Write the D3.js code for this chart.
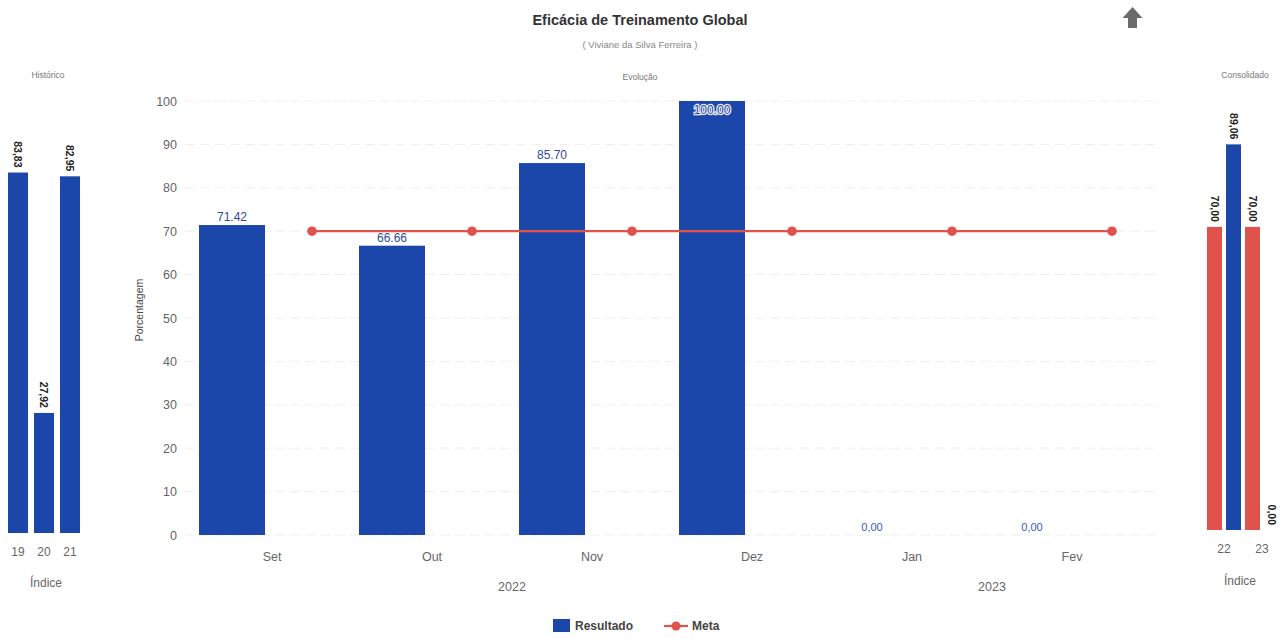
<!DOCTYPE html>
<html><head><meta charset="utf-8">
<script src="https://cdn.jsdelivr.net/npm/d3@7"></script>
<style>body{margin:0;background:#fff;} svg{font-family:"Liberation Sans",Arial,sans-serif;display:block;}</style>
</head><body><svg id="c" width="1285" height="638"></svg>
<script>
// ---- data ----
const months = ["Set","Out","Nov","Dez","Jan","Fev"];
const resultado = [71.42, 66.66, 85.70, 100.00, 0, 0];
const resultadoLabels = ["71.42","66.66","85.70","100.00","0,00","0,00"];
const meta = [70, 70, 70, 70, 70, 70];
const yTicks = [0,10,20,30,40,50,60,70,80,90,100];
const yearLabels = ["2022","2023"];
const yearFirst = ["Set","Jan"];
const yearLast = ["Dez","Fev"];
const mainSeries = ["Resultado","Meta"];

const histCats = ["19","20","21"];
const histValues = [83.83, 27.92, 82.95];
const histLabels = ["83,83","27,92","82,95"];

const consCats = ["22","23"];
const consSeries = ["Meta","Resultado"];
const consMeta = [70, 70];
const consResultado = [89.06, 0];
const consMetaLabels = ["70,00","70,00"];
const consResLabels = ["89,06","0,00"];

const BLUE = "#1b46aa", RED = "#e0524c", GRAY = "#666";

const svg = d3.select("#c");

// ---- titles ----
svg.append("text").attr("x",640).attr("y",25).attr("text-anchor","middle")
  .attr("font-size",14.5).attr("font-weight","bold").attr("fill","#333").text("Eficácia de Treinamento Global");
svg.append("text").attr("x",640).attr("y",48).attr("text-anchor","middle")
  .attr("font-size",9.5).attr("fill","#888").text("( Viviane da Silva Ferreira )");
svg.append("text").attr("x",640).attr("y",80).attr("text-anchor","middle")
  .attr("font-size",8.5).attr("fill","#777").text("Evolução");
svg.append("text").attr("x",48).attr("y",78).attr("text-anchor","middle")
  .attr("font-size",8.5).attr("fill","#777").text("Histórico");
svg.append("text").attr("x",1245).attr("y",78).attr("text-anchor","middle")
  .attr("font-size",8.5).attr("fill","#777").text("Consolidado");

// up arrow icon
svg.append("path").attr("fill","#6b6b6b")
  .attr("d","M1132.5,7 L1142.5,18 L1137,18 L1137,28 L1128,28 L1128,18 L1122.5,18 Z");

// ---- main chart ----
const x = d3.scaleBand().domain(months).range([192,1152]);
const sub = d3.scaleBand().domain(mainSeries).range([0,x.bandwidth()]).paddingInner(0.175).paddingOuter(0.0875);
const y = d3.scaleLinear().domain([0,100]).range([535,101]);

const grid = svg.append("g");
grid.selectAll("line").data(yTicks).join("line")
  .attr("x1",185).attr("x2",1155).attr("y1",d=>y(d)).attr("y2",d=>y(d))
  .attr("stroke","#efefef").attr("stroke-dasharray","10,5").attr("stroke-width",1);

const yAxis = svg.append("g").attr("transform","translate(183,0)")
  .call(d3.axisLeft(y).tickValues(yTicks).tickSize(0).tickPadding(6));
yAxis.select(".domain").remove();
yAxis.selectAll("text").attr("font-size",12.5).attr("fill",GRAY).attr("font-family","Liberation Sans, Arial, sans-serif");

svg.append("text").attr("transform","translate(143,310) rotate(-90)").attr("text-anchor","middle")
  .attr("font-size",10.5).attr("fill","#444").text("Porcentagem");

const xAxis = svg.append("g").attr("transform","translate(0,535)")
  .call(d3.axisBottom(x).tickSize(0).tickPadding(17));
xAxis.select(".domain").remove();
xAxis.selectAll("text").attr("font-size",12.5).attr("fill",GRAY).attr("font-family","Liberation Sans, Arial, sans-serif");

svg.append("g").selectAll("text").data(yearLabels).join("text")
  .attr("x",(d,i)=>(x(yearFirst[i]) + x(yearLast[i]) + x.bandwidth())/2)
  .attr("y",591).attr("text-anchor","middle").attr("font-size",12.5).attr("fill",GRAY).text(d=>d);

// bars
svg.append("g").selectAll("rect").data(resultado).join("rect")
  .attr("x",(d,i)=>x(months[i]) + sub("Resultado"))
  .attr("width",sub.bandwidth())
  .attr("y",d=>y(d)).attr("height",d=>y(0)-y(d)).attr("fill",BLUE);

// meta line
const line = d3.line().x((d,i)=>x(months[i]) + sub("Meta") + sub.bandwidth()/2).y(d=>y(d));
svg.append("path").datum(meta).attr("d",line).attr("fill","none").attr("stroke",RED).attr("stroke-width",2.2);
svg.append("g").selectAll("circle").data(meta).join("circle")
  .attr("cx",(d,i)=>x(months[i]) + sub("Meta") + sub.bandwidth()/2).attr("cy",d=>y(d))
  .attr("r",4.8).attr("fill",RED);

// bar labels
svg.append("g").selectAll("text").data(resultado).join("text")
  .attr("x",(d,i)=>x(months[i]) + sub("Resultado") + sub.bandwidth()/2)
  .attr("y",d=> d>=99 ? y(d)+13 : y(d)-4)
  .attr("text-anchor","middle").attr("font-size",d=> d===0 ? 11 : 12)
  .attr("fill",d=> d===0 ? "#3b5bc0" : "#2d4b9a")
  .attr("stroke",d=> d>=99 ? "#e8ecf8" : "none").attr("stroke-width",2.5)
  .attr("paint-order","stroke")
  .text((d,i)=>resultadoLabels[i]);

// ---- Histórico panel ----
const xh = d3.scaleBand().domain(histCats).range([5,83]).paddingInner(0.23).paddingOuter(0.115);
const yh = d3.scaleLinear().domain([0,100]).range([533,103]);
svg.append("g").selectAll("rect").data(histValues).join("rect")
  .attr("x",(d,i)=>xh(histCats[i])).attr("width",xh.bandwidth())
  .attr("y",d=>yh(d)).attr("height",d=>yh(0)-yh(d)).attr("fill",BLUE);
svg.append("g").selectAll("text").data(histValues).join("text")
  .attr("transform",(d,i)=>`translate(${xh(histCats[i])+xh.bandwidth()/2},${yh(d)-5}) rotate(90)`)
  .attr("text-anchor","end").attr("dominant-baseline","central")
  .attr("font-size",10.5).attr("font-weight","bold").attr("fill","#222")
  .text((d,i)=>histLabels[i]);
const hAxis = svg.append("g").attr("transform","translate(0,533)")
  .call(d3.axisBottom(xh).tickSize(0).tickPadding(14));
hAxis.select(".domain").remove();
hAxis.selectAll("text").attr("font-size",12).attr("fill",GRAY).attr("font-family","Liberation Sans, Arial, sans-serif");
svg.append("text").attr("x",46).attr("y",587).attr("text-anchor","middle").attr("font-size",12).attr("fill",GRAY).text("Índice");

// ---- Consolidado panel ----
const xc = d3.scaleBand().domain(consCats).range([1205,1281]);
const sc = d3.scaleBand().domain(consSeries).range([0,xc.bandwidth()]).paddingInner(0.21).paddingOuter(0.105);
const yc = d3.scaleLinear().domain([0,100]).range([530,97]);
const consRows = [];
consCats.forEach((c,i)=>{
  consRows.push({cat:c, s:"Meta", v:consMeta[i], lab:consMetaLabels[i]});
  consRows.push({cat:c, s:"Resultado", v:consResultado[i], lab:consResLabels[i]});
});
svg.append("g").selectAll("rect").data(consRows).join("rect")
  .attr("x",d=>xc(d.cat)+sc(d.s)).attr("width",sc.bandwidth())
  .attr("y",d=>yc(d.v)).attr("height",d=>yc(0)-yc(d.v))
  .attr("fill",d=>d.s==="Meta"?RED:BLUE);
svg.append("g").selectAll("text").data(consRows).join("text")
  .attr("transform",d=>`translate(${xc(d.cat)+sc(d.s)+sc.bandwidth()/2},${yc(d.v)-5}) rotate(90)`)
  .attr("text-anchor","end").attr("dominant-baseline","central")
  .attr("font-size",10.5).attr("font-weight","bold").attr("fill","#222")
  .text(d=>d.lab);
const cAxis = svg.append("g").attr("transform","translate(0,530)")
  .call(d3.axisBottom(xc).tickSize(0).tickPadding(14));
cAxis.select(".domain").remove();
cAxis.selectAll("text").attr("font-size",12).attr("fill",GRAY).attr("font-family","Liberation Sans, Arial, sans-serif");
svg.append("text").attr("x",1240).attr("y",585).attr("text-anchor","middle").attr("font-size",12).attr("fill",GRAY).text("Índice");

// ---- legend ----
const lg = svg.append("g");
lg.append("rect").attr("x",553).attr("y",619).attr("width",17).attr("height",13).attr("fill",BLUE);
lg.append("text").attr("x",575).attr("y",630).attr("font-size",12).attr("font-weight","bold").attr("fill","#444").text(mainSeries[0]);
lg.append("line").attr("x1",664).attr("x2",688).attr("y1",626).attr("y2",626).attr("stroke",RED).attr("stroke-width",2.2);
lg.append("circle").attr("cx",676).attr("cy",626).attr("r",4.5).attr("fill",RED);
lg.append("text").attr("x",692).attr("y",630).attr("font-size",12).attr("font-weight","bold").attr("fill","#444").text(mainSeries[1]);
</script></body></html>
